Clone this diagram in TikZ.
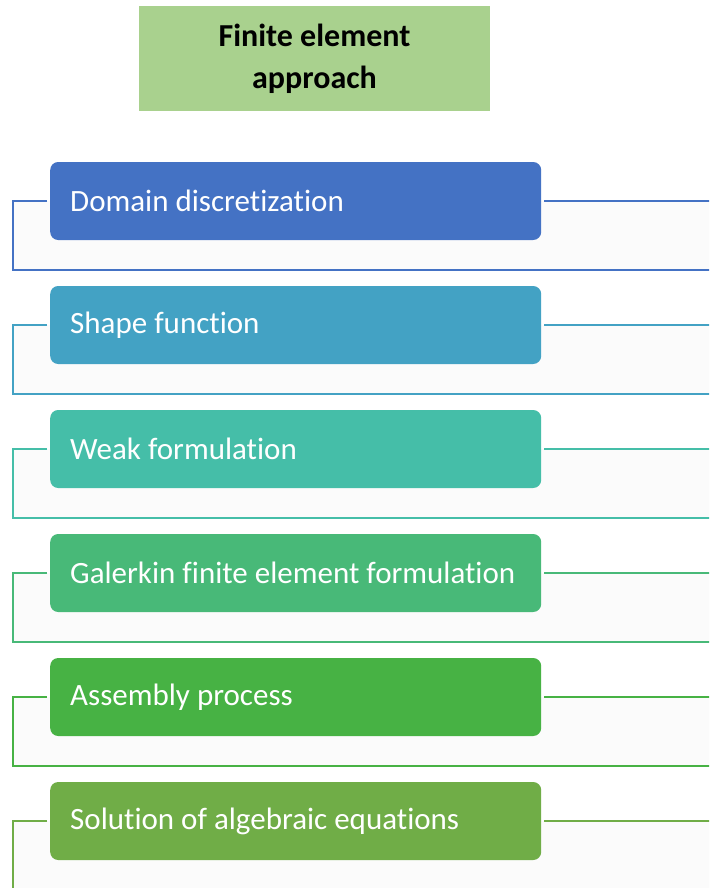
\documentclass[tikz,border=0pt]{standalone}
\usepackage{fontspec}
\setmainfont{Carlito}[Ligatures=NoCommon]
\usetikzlibrary{positioning}

\definecolor{rowA}{HTML}{4472C4}
\definecolor{rowB}{HTML}{43A2C4}
\definecolor{rowC}{HTML}{45BEA8}
\definecolor{rowD}{HTML}{48B978}
\definecolor{rowE}{HTML}{47B244}
\definecolor{rowF}{HTML}{70AD47}
\definecolor{titlegreen}{HTML}{A9D18E}
\definecolor{framefill}{HTML}{FBFBFB}

\begin{document}
\begin{tikzpicture}[x=1pt,y=-1pt,
    titlebox/.style={fill=titlegreen,minimum width=351pt,minimum height=105pt,align=center,
      font=\fontsize{32}{42}\selectfont\bfseries},
    stepbox/.style={rounded corners=8pt,anchor=west,minimum width=491pt,minimum height=78pt,
      text width=451pt,inner xsep=20pt,align=flush left,text=white,font=\fontsize{31}{37}\selectfont},
    frameline/.style={line width=2pt}]
  \clip (0,0) rectangle (709,888);
  \fill[white] (0,0) rectangle (709,888);
  \node[titlebox] (title) at (314.5,58.5) {Finite element\\approach};
  \foreach \i/\txt/\col in {0/Domain discretization/rowA,
                            1/Shape function/rowB,
                            2/Weak formulation/rowC,
                            3/Galerkin finite element formulation/rowD,
                            4/Assembly process/rowE,
                            5/Solution of algebraic equations/rowF}{
    \pgfmathsetmacro\yc{201+124*\i}
    \pgfmathsetmacro\yb{270+124*\i}
    \fill[framefill] (13,\yc) rectangle (712,\yb);
    \node[stepbox,fill=\col] (step\i) at (50,\yc) {\txt};
    \draw[frameline,\col] ([xshift=-3pt]step\i.west) -| (13,\yb) -- (712,\yb);
    \draw[frameline,\col] ([xshift=3pt]step\i.east) -- (712,\yc);
  }
\end{tikzpicture}
\end{document}
